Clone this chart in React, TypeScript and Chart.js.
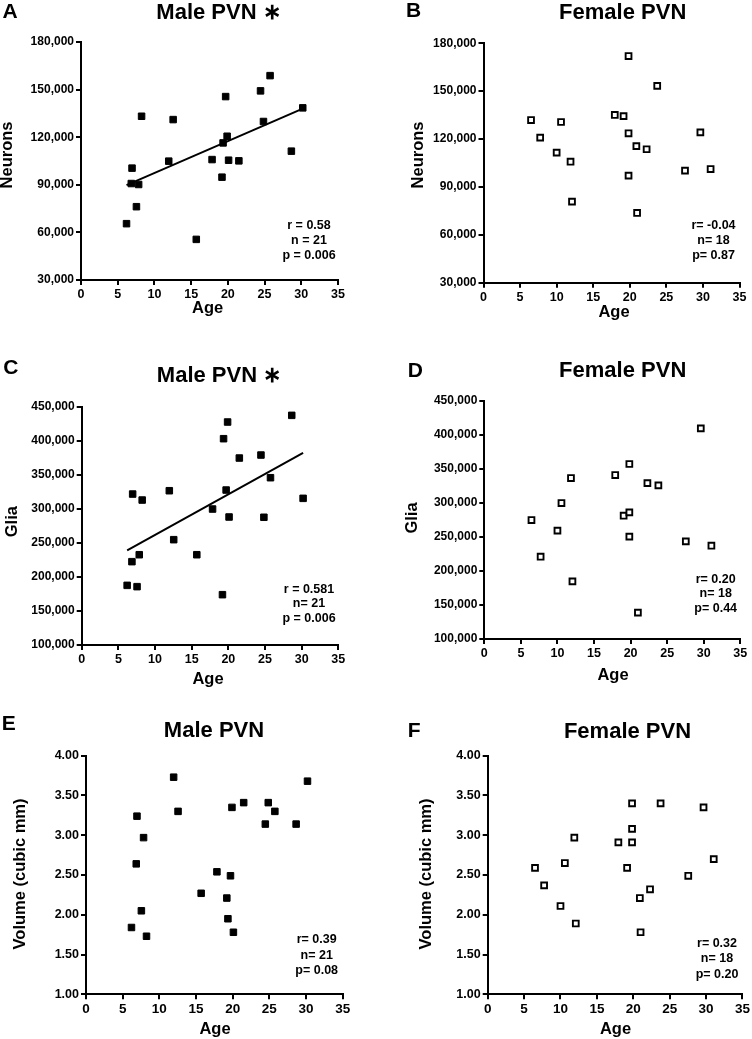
import React, { useEffect, useRef } from "react";
import { Chart, registerables } from "chart.js";
Chart.register(...registerables);

// ---------- data ----------
const maleAges = [6.2, 6.85, 6.95, 7.55, 7.85, 8.25, 11.95, 12.55, 15.7, 17.85, 19.2, 19.35, 19.7, 19.9, 20.1, 21.5, 24.45, 24.85, 25.75, 28.65, 30.2];
const maleNeurons = [65500, 90800, 100500, 76200, 90200, 133200, 104900, 131100, 55600, 105900, 94800, 116400, 145600, 120600, 105500, 105100, 149200, 129900, 158800, 111200, 138500];
const maleGlia = [187600, 222400, 321700, 185700, 232600, 312900, 326600, 254700, 232600, 299700, 173900, 403000, 327600, 427500, 288000, 374600, 379000, 287600, 345700, 437300, 315400];
const maleVolume = [1.84, 2.64, 3.24, 2.05, 2.97, 1.73, 3.73, 3.3, 2.27, 2.54, 2.21, 1.95, 2.49, 3.35, 1.78, 3.41, 3.14, 3.41, 3.3, 3.14, 3.68];

const femaleAges = [6.5, 7.75, 10.0, 10.6, 11.9, 12.1, 17.95, 19.15, 19.83, 19.83, 19.83, 20.9, 21.0, 22.3, 23.75, 27.55, 29.65, 31.05];
const femaleNeurons = [131900, 120900, 111500, 130700, 105800, 80800, 135100, 134400, 172000, 123600, 97100, 115600, 73700, 113600, 153300, 100200, 124200, 101200];
const femaleVolume = [2.59, 2.37, 2.11, 2.65, 2.97, 1.89, 2.91, 2.59, 3.4, 3.08, 2.91, 2.21, 1.78, 2.32, 3.4, 2.49, 3.35, 2.7];
const femaleGliaAges = [6.45, 7.7, 10.0, 10.55, 11.85, 12.05, 17.9, 19.05, 19.83, 19.83, 19.83, 21.0, 22.3, 23.8, 27.55, 29.6, 31.05];
const femaleGlia = [274700, 220900, 259100, 299700, 336400, 184700, 340800, 281100, 357000, 286000, 250300, 138700, 329000, 325600, 243400, 409400, 237000];

const fitAges = [6.2, 30.2];
const neuronsFit = [89800, 138000];
const gliaFit = [239000, 382000];

const xTicks = [0, 5, 10, 15, 20, 25, 30, 35];
const neuronTicks = [30000, 60000, 90000, 120000, 150000, 180000];
const gliaTicks = [100000, 150000, 200000, 250000, 300000, 350000, 400000, 450000];
const volumeTicks = [1.0, 1.5, 2.0, 2.5, 3.0, 3.5, 4.0];

const statsA = ["r = 0.58", "n = 21", "p = 0.006"];
const statsB = ["r= -0.04", "n= 18", "p= 0.87"];
const statsC = ["r = 0.581", "n= 21", "p = 0.006"];
const statsD = ["r= 0.20", "n= 18", "p= 0.44"];
const statsE = ["r= 0.39", "n= 21", "p= 0.08"];
const statsF = ["r= 0.32", "n= 18", "p= 0.20"];

// ---------- panel definitions (layout in page pixels) ----------
type PanelDef = {
  letter: string; title: string; yTitle: string;
  xs: number[]; ys: number[]; filled: boolean;
  fitX?: number[]; fitY?: number[];
  yTicks: number[]; decimals: number;
  stats: string[];
  cell: [number, number, number, number]; // left, top, width, height
  area: [number, number, number, number]; // left, top, right, bottom (page)
  letterPos: [number, number]; titlePos: [number, number];
  xTitlePos: [number, number]; yTitlePos: [number, number];
  statsPos: [number, number, number]; // centerX, firstLineY, lineGap
  tickFont: number; xTickFont: number;
};

const panels: PanelDef[] = [
  {
    letter: "A", title: "Male PVN \u2217", yTitle: "Neurons",
    xs: maleAges, ys: maleNeurons, filled: true, fitX: fitAges, fitY: neuronsFit,
    yTicks: neuronTicks, decimals: -1, stats: statsA,
    cell: [0, 0, 376, 340], area: [81, 42, 338, 280],
    letterPos: [2.5, 12.3], titlePos: [218.5, 12.9],
    xTitlePos: [207.7, 308.5], yTitlePos: [7.8, 155],
    statsPos: [309, 225.3, 15], tickFont: 12, xTickFont: 12.5,
  },
  {
    letter: "B", title: "Female PVN", yTitle: "Neurons",
    xs: femaleAges, ys: femaleNeurons, filled: false,
    yTicks: neuronTicks, decimals: -1, stats: statsB,
    cell: [376, 0, 376, 340], area: [483.5, 43.3, 739.5, 282.7],
    letterPos: [406, 11], titlePos: [622.7, 12.9],
    xTitlePos: [614, 312], yTitlePos: [418.3, 155],
    statsPos: [713.5, 226, 15], tickFont: 12, xTickFont: 12.5,
  },
  {
    letter: "C", title: "Male PVN \u2217", yTitle: "Glia",
    xs: maleAges, ys: maleGlia, filled: true, fitX: fitAges, fitY: gliaFit,
    yTicks: gliaTicks, decimals: -1, stats: statsC,
    cell: [0, 340, 376, 355], area: [81.7, 406.7, 338.3, 645],
    letterPos: [3.3, 367.8], titlePos: [219, 375.8],
    xTitlePos: [208, 679.5], yTitlePos: [12.2, 521.7],
    statsPos: [309, 589.3, 14.7], tickFont: 12, xTickFont: 12.5,
  },
  {
    letter: "D", title: "Female PVN", yTitle: "Glia",
    xs: femaleGliaAges, ys: femaleGlia, filled: false,
    yTicks: gliaTicks, decimals: -1, stats: statsD,
    cell: [376, 340, 376, 355], area: [484.3, 400.7, 740.3, 639],
    letterPos: [407.7, 371.2], titlePos: [622.7, 371.3],
    xTitlePos: [613, 675], yTitlePos: [412, 518],
    statsPos: [715.7, 579.3, 14.7], tickFont: 12, xTickFont: 12.5,
  },
  {
    letter: "E", title: "Male PVN", yTitle: "Volume (cubic mm)",
    xs: maleAges, ys: maleVolume, filled: true,
    yTicks: volumeTicks, decimals: 2, stats: statsE,
    cell: [0, 685, 376, 354], area: [86, 755.7, 342.7, 994.3],
    letterPos: [1.7, 724.2], titlePos: [214, 731.3],
    xTitlePos: [215, 1029], yTitlePos: [20, 874],
    statsPos: [316.7, 940, 15.3], tickFont: 12.5, xTickFont: 13.5,
  },
  {
    letter: "F", title: "Female PVN", yTitle: "Volume (cubic mm)",
    xs: femaleAges, ys: femaleVolume, filled: false,
    yTicks: volumeTicks, decimals: 2, stats: statsF,
    cell: [376, 685, 376, 354], area: [487.7, 755.7, 744.3, 994.3],
    letterPos: [407.7, 731.3], titlePos: [627.5, 732],
    xTitlePos: [615.5, 1029], yTitlePos: [426, 874],
    statsPos: [717, 943.3, 15.5], tickFont: 12.5, xTickFont: 13.5,
  },
];

const FONT = '"Liberation Sans", Arial, Helvetica, sans-serif';

function PanelChart({ p }: { p: PanelDef }) {
  const ref = useRef<HTMLCanvasElement | null>(null);
  useEffect(() => {
    if (!ref.current) return;
    const [cl, ct, cw, ch] = p.cell;
    const [al, at, ar, ab] = p.area;
    const yW = al - cl;
    const padTop = at - ct;
    const padRight = cl + cw - ar;
    const xH = ct + ch - ab;

    const textPlugin = {
      id: "panelText" + p.letter,
      afterDraw(chart: any) {
        const ctx = chart.ctx as CanvasRenderingContext2D;
        ctx.save();
        ctx.fillStyle = "#000";
        ctx.font = `bold 21px ${FONT}`;
        ctx.textAlign = "left";
        ctx.textBaseline = "middle";
        ctx.fillText(p.letter, p.letterPos[0] - cl, p.letterPos[1] - ct);
        ctx.font = `bold 22px ${FONT}`;
        ctx.textAlign = "center";
        ctx.fillText(p.title, p.titlePos[0] - cl, p.titlePos[1] - ct);
        ctx.font = `bold 16.5px ${FONT}`;
        ctx.fillText("Age", p.xTitlePos[0] - cl, p.xTitlePos[1] - ct);
        ctx.save();
        ctx.translate(p.yTitlePos[0] - cl, p.yTitlePos[1] - ct);
        ctx.rotate(-Math.PI / 2);
        ctx.fillText(p.yTitle, 0, 0);
        ctx.restore();
        ctx.font = `bold 12.5px ${FONT}`;
        p.stats.forEach((s, i) => {
          ctx.fillText(s, p.statsPos[0] - cl, p.statsPos[1] + i * p.statsPos[2] - ct);
        });
        ctx.restore();
      },
    };

    const datasets: any[] = [];
    if (p.fitX && p.fitY) {
      datasets.push({
        data: p.fitX.map((x, i) => ({ x, y: p.fitY![i] })),
        showLine: true,
        borderColor: "#000",
        borderWidth: 2,
        pointRadius: 0,
        fill: false,
        order: 2,
      });
    }
    datasets.push({
      data: p.xs.map((x, i) => ({ x, y: p.ys[i] })),
      pointStyle: "rect",
      pointRadius: p.filled ? 4.6 : 4.1,
      backgroundColor: p.filled ? "#000" : "#fff",
      borderColor: "#000",
      borderWidth: p.filled ? 1 : 1.9,
      showLine: false,
      order: 1,
    });

    const mkFont = (s: number) => ({ family: FONT, size: s, weight: "bold" as const });
    const chart = new Chart(ref.current, {
      type: "scatter",
      data: { datasets },
      options: {
        responsive: false,
        animation: false,
        events: [],
        layout: { padding: { top: padTop, right: padRight, bottom: 0, left: 0 } },
        plugins: {
          legend: { display: false },
          tooltip: { enabled: false },
          title: { display: false },
        },
        scales: {
          x: {
            type: "linear",
            min: 0,
            max: 35,
            afterBuildTicks: (axis: any) => {
              axis.ticks = xTicks.map((v) => ({ value: v }));
            },
            ticks: {
              color: "#000",
              font: mkFont(p.xTickFont),
              padding: 2,
              maxRotation: 0,
              autoSkip: false,
              callback: (v: any) => String(v),
            },
            grid: {
              display: true,
              drawOnChartArea: false,
              drawTicks: true,
              tickLength: 5,
              color: "#000",
              lineWidth: 2,
            },
            border: { display: true, color: "#000", width: 2 },
            afterFit: (axis: any) => {
              axis.height = xH;
            },
          },
          y: {
            type: "linear",
            min: p.yTicks[0],
            max: p.yTicks[p.yTicks.length - 1],
            afterBuildTicks: (axis: any) => {
              axis.ticks = p.yTicks.map((v) => ({ value: v }));
            },
            ticks: {
              color: "#000",
              font: mkFont(p.tickFont),
              padding: 2,
              autoSkip: false,
              callback: (v: any) =>
                p.decimals >= 0 ? Number(v).toFixed(p.decimals) : Number(v).toLocaleString("en-US"),
            },
            grid: {
              display: true,
              drawOnChartArea: false,
              drawTicks: true,
              tickLength: 5,
              color: "#000",
              lineWidth: 2,
            },
            border: { display: true, color: "#000", width: 2 },
            afterFit: (axis: any) => {
              axis.width = yW;
            },
          },
        },
      } as any,
      plugins: [textPlugin],
    });
    return () => chart.destroy();
  }, [p]);

  const [cl, ct, cw, ch] = p.cell;
  return (
    <canvas
      ref={ref}
      width={cw}
      height={ch}
      style={{ position: "absolute", left: cl, top: ct, width: cw, height: ch, display: "block" }}
    />
  );
}

export default function App() {
  return (
    <div style={{ position: "absolute", left: 0, top: 0, width: 752, height: 1039, background: "#fff" }}>
      {panels.map((p) => (
        <PanelChart key={p.letter} p={p} />
      ))}
    </div>
  );
}
